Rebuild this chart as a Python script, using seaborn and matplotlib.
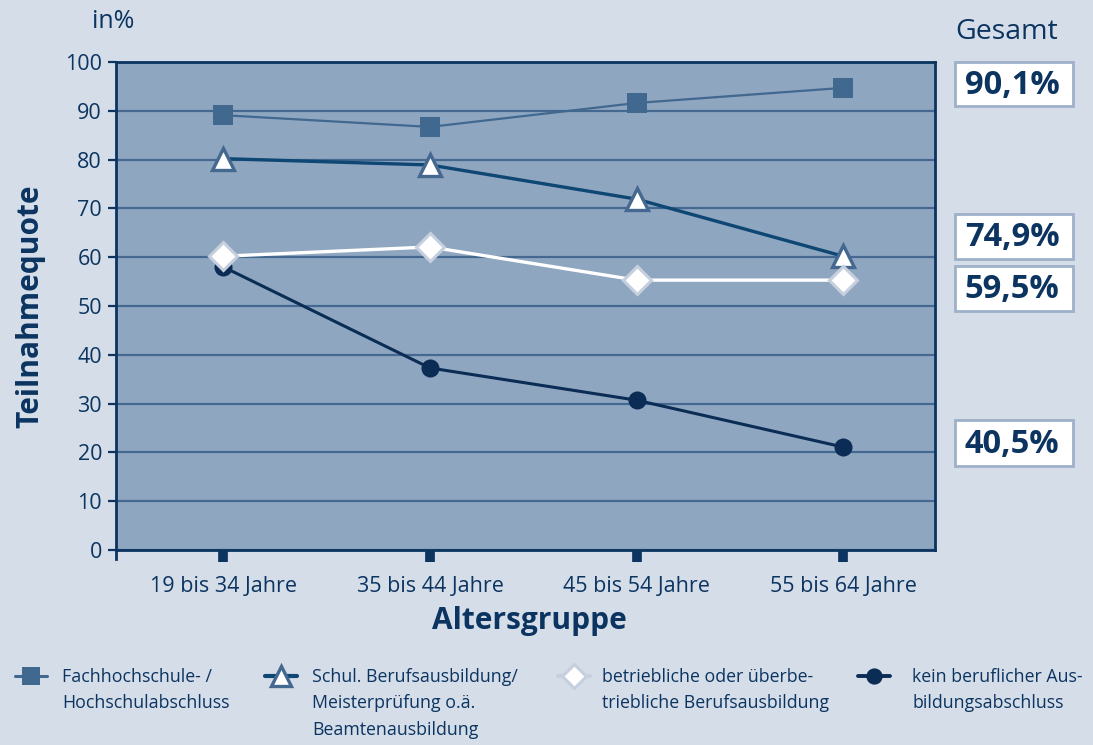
import matplotlib
matplotlib.use("Agg")
import matplotlib.pyplot as plt
from matplotlib.lines import Line2D
from matplotlib.patches import Rectangle
import seaborn as sns
import pandas as pd

# --- data -------------------------------------------------------------
age_groups = ["19 bis 34 Jahre", "35 bis 44 Jahre", "45 bis 54 Jahre", "55 bis 64 Jahre"]
hochschule = [89.1, 86.7, 91.6, 94.7]
schul_beruf = [80.2, 78.9, 71.9, 60.2]
betrieblich = [60.2, 62.1, 55.3, 55.3]
kein_abschluss = [58.0, 37.3, 30.7, 21.1]

series_labels = [
    "Fachhochschule- /\nHochschulabschluss",
    "Schul. Berufsausbildung/\nMeisterprüfung o.ä.\nBeamtenausbildung",
    "betriebliche oder überbe-\ntriebliche Berufsausbildung",
    "kein beruflicher Aus-\nbildungsabschluss",
]
totals = ["90,1%", "74,9%", "59,5%", "40,5%"]
yticks = list(range(0, 101, 10))

# --- colours ------------------------------------------------------------
BG = "#d5dde9"
FACE = "#8fa6c0"
GRID = "#44688f"
NAVY = "#0b3460"
SQ = "#41688f"
TRI_LINE = "#0e4674"
TRI_EDGE = "#44688f"
DIA_EDGE = "#c5cfdd"
CIRC = "#0a2c55"

sns.set_theme(style="white")
plt.rcParams["font.family"] = ["Open Sans", "DejaVu Sans"]
plt.rcParams["text.color"] = NAVY

W, H = 1093, 745
fig = plt.figure(figsize=(W / 100, H / 100), dpi=100, facecolor=BG)
ax = fig.add_axes([116 / W, 1 - 550 / H, (935 - 116) / W, (550 - 62) / H])
ax.set_facecolor(FACE)


def fx(px):
    return px / W


def fy(py):
    return 1 - py / H


x = list(range(len(age_groups)))
styles = [
    dict(y=hochschule, color=SQ, lw=1.6, marker="s", ms=14, mfc=SQ, mec=SQ, mew=0, z=3),
    dict(y=schul_beruf, color=TRI_LINE, lw=2.4, marker="^", ms=15.5, mfc="white", mec=TRI_EDGE, mew=2.4, z=3),
    dict(y=betrieblich, color="white", lw=2.4, marker="D", ms=14, mfc="white", mec=DIA_EDGE, mew=2.2, z=4),
    dict(y=kein_abschluss, color=CIRC, lw=2.2, marker="o", ms=13, mfc=CIRC, mec=CIRC, mew=0, z=3),
]

for st in styles:
    df = pd.DataFrame({"x": x, "y": st["y"]})
    sns.lineplot(data=df, x="x", y="y", ax=ax, color=st["color"], lw=st["lw"],
                 marker=st["marker"], markersize=st["ms"], markerfacecolor=st["mfc"],
                 markeredgecolor=st["mec"], markeredgewidth=st["mew"], zorder=st["z"],
                 clip_on=False)

# axes limits, grid and spines
ax.set_xlim(-0.52, 3.445)
ax.set_ylim(0, 100)
ax.set_yticks(yticks)
ax.set_xticks(x)
ax.set_xticklabels(age_groups)
ax.yaxis.grid(True, color=GRID, lw=1.6)
ax.xaxis.grid(False)
ax.set_axisbelow(True)
for side in ["left", "right", "top", "bottom"]:
    ax.spines[side].set_visible(True)
    ax.spines[side].set_color(NAVY)
    ax.spines[side].set_linewidth(2)
ax.spines["left"].set_bounds(-1.8, 100)

ax.tick_params(axis="y", direction="out", length=6, width=1.6, color=NAVY,
               labelsize=15.5, labelcolor=NAVY, pad=4, left=True)
ax.tick_params(axis="x", direction="out", length=8.5, width=7, color=NAVY,
               labelsize=15.5, labelcolor=NAVY, pad=10, bottom=True)

ax.set_xlabel("Altersgruppe", fontsize=21.5, fontweight="bold", color=NAVY)
ax.xaxis.set_label_coords(0.505, -0.115)
ax.set_ylabel("Teilnahmequote", fontsize=21.5, fontweight="bold", color=NAVY, labelpad=14)

fig.text(fx(92), fy(22), "in%", fontsize=18, color=NAVY, va="center", ha="left")
fig.text(fx(1007), fy(32), "Gesamt", fontsize=20.5, color=NAVY, va="center", ha="center")

# totals boxes on the right
box_rows = [(62, 106), (214, 259), (266, 311), (420, 466)]
for txt, (top, bot) in zip(totals, box_rows):
    fig.add_artist(Rectangle((fx(955), fy(bot)), fx(1073) - fx(955), fy(top) - fy(bot),
                             transform=fig.transFigure, facecolor="white",
                             edgecolor="#9fb1c8", lw=2))
    fig.text(fx(1012), fy((top + bot) / 2 + 1), txt, fontsize=23.5, fontweight="bold",
             color=NAVY, ha="center", va="center")

# legend, drawn as four handle + label blocks along the bottom
handle_x = [15, 265, 558, 858]
text_x = [62, 312, 602, 912]
row_y = 676
for st, lab, hx, tx in zip(styles, series_labels, handle_x, text_x):
    lc = st["color"] if st["color"] != "white" else DIA_EDGE
    fig.add_artist(Line2D([fx(hx), fx(hx + 16), fx(hx + 32)], [fy(row_y)] * 3,
                          transform=fig.transFigure, color=lc, lw=st["lw"] + 0.6,
                          marker=st["marker"], markevery=[1], markersize=st["ms"] * 0.9,
                          markerfacecolor=st["mfc"], markeredgecolor=st["mec"],
                          markeredgewidth=st["mew"]))
    fig.text(fx(tx), fy(row_y - 8), lab, fontsize=12.8, color=NAVY, ha="left", va="top",
             linespacing=1.6)

fig.savefig("out.png", dpi=100, facecolor=BG)
